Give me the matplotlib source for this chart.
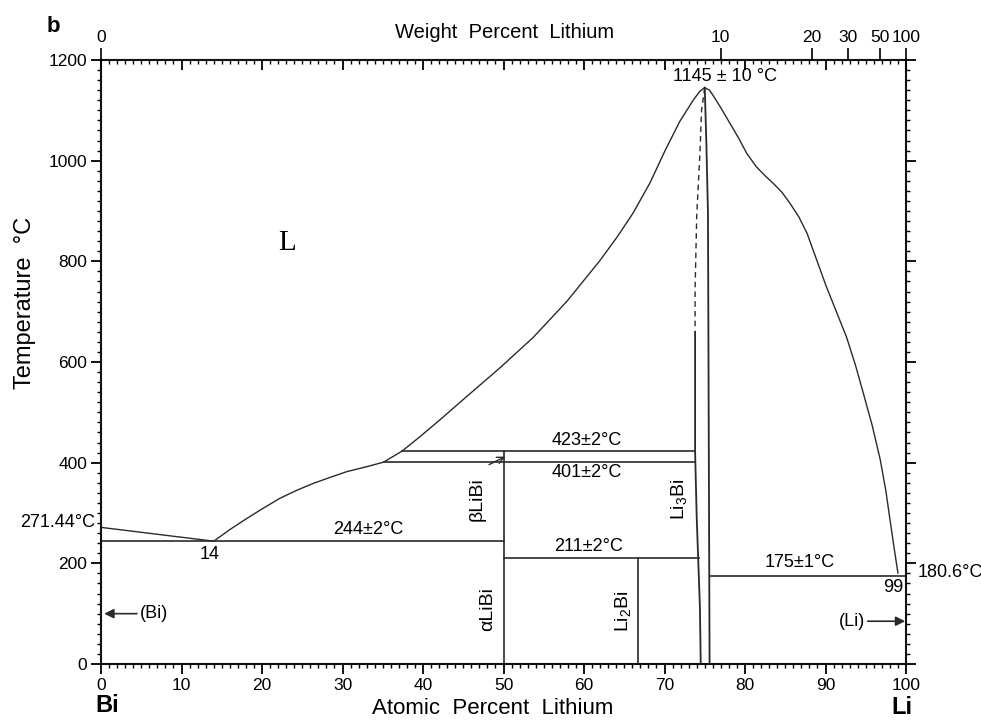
import numpy as np
import matplotlib
matplotlib.use("Agg")
import matplotlib.pyplot as plt
from matplotlib.ticker import MultipleLocator

plt.rcParams['font.family'] = ['Liberation Sans', 'DejaVu Sans']
plt.rcParams['mathtext.fontset'] = 'custom'
plt.rcParams['mathtext.rm'] = 'Liberation Sans'
plt.rcParams['mathtext.it'] = 'Liberation Sans:italic'

# ---------------- data (atomic % Li, temperature in °C) ----------------
bi_liq_x = [0, 14.0]
bi_liq_T = [271.44, 244]

libi_liq_x = [14.0, 16.0, 18.1, 20.0, 22.2, 24.3, 26.4, 28.5, 30.5, 33.0, 35.1, 37.4, 39.5,
              42.1, 45.4, 49.6, 53.7, 57.9, 62.0, 64.1, 66.1, 68.2, 70.1, 71.9, 73.6, 74.4, 75.0]
libi_liq_T = [244, 267, 289, 308, 329, 345, 359, 371, 382, 392, 401, 423, 450,
              485, 531, 589, 649, 721, 802, 848, 896, 956, 1021, 1078, 1121, 1138, 1145]

li_liq_x = [75.0, 75.6, 76.1, 77.0, 78.1, 79.2, 80.2, 81.4, 82.5, 83.5, 84.6, 85.6, 86.7,
            87.7, 88.9, 90.1, 91.4, 92.6, 93.7, 94.7, 95.8, 96.8, 97.5, 98.0, 98.5, 99.0]
li_liq_T = [1145, 1140, 1128, 1105, 1075, 1045, 1015, 988, 970, 955, 937, 915, 888,
            856, 803, 750, 698, 650, 595, 538, 474, 406, 344, 288, 233, 180.6]

li3bi_dash_x = [75.0, 74.6, 74.4, 74.0, 73.8, 73.8]
li3bi_dash_T = [1145, 1100, 1015, 889, 744, 665]

li3bi_left_x = [73.8, 73.8, 74.0, 74.4, 74.5]
li3bi_left_T = [660, 423, 292, 113, 0]

li3bi_right_x = [75.0, 75.2, 75.4, 75.6]
li3bi_right_T = [1145, 1035, 896, 0]

# isotherms: (temperature, x_start, x_end)
iso_T = [423, 401, 244, 211, 175]
iso_x0 = [37.4, 35.1, 0, 50, 75.6]
iso_x1 = [73.8, 73.8, 50, 74.3, 100]

# stoichiometric compounds: (x, T_top)
comp_x = [50, 66.7]
comp_T = [423, 211]

wt_ticks = [0, 10, 20, 30, 50, 100]

M_LI, M_BI = 6.94, 208.98


def wt2at(w):
    w = np.asarray(w, dtype=float)
    return (w / M_LI) / (w / M_LI + (100 - w) / M_BI) * 100


LC = '#2a2a2a'
LW = 1.0

fig = plt.figure(figsize=(9.81, 7.21), dpi=100)
fig.patch.set_facecolor('white')
W, H = 981, 721
ax = fig.add_axes([101 / W, 1 - 664 / H, (906 - 101) / W, (664 - 60) / H])
ax.set_xlim(0, 100)
ax.set_ylim(0, 1200)

ax.plot(bi_liq_x, bi_liq_T, color=LC, lw=LW)
ax.plot(libi_liq_x, libi_liq_T, color=LC, lw=LW)
ax.plot(li_liq_x, li_liq_T, color=LC, lw=LW)
ax.plot(li3bi_dash_x, li3bi_dash_T, color=LC, lw=LW, ls=(0, (4, 3)))
ax.plot(li3bi_left_x, li3bi_left_T, color=LC, lw=1.3)
ax.plot(li3bi_right_x, li3bi_right_T, color=LC, lw=1.3)
for t, x0, x1 in zip(iso_T, iso_x0, iso_x1):
    ax.plot([x0, x1], [t, t], color=LC, lw=1.2)
for x, t in zip(comp_x, comp_T):
    ax.plot([x, x], [0, t], color=LC, lw=1.2)

# ticks
for s in ax.spines.values():
    s.set_linewidth(1.5)
    s.set_color('#111111')
ax.xaxis.set_major_locator(MultipleLocator(10))
ax.xaxis.set_minor_locator(MultipleLocator(1))
ax.yaxis.set_major_locator(MultipleLocator(200))
ax.yaxis.set_minor_locator(MultipleLocator(20))
ax.tick_params(axis='x', which='major', direction='out', length=7, width=1.3,
               labelsize=12.5, pad=3, top=False)
ax.tick_params(axis='x', which='minor', direction='out', length=3, width=1.0, top=False)
ax.tick_params(axis='y', which='major', direction='out', length=7, width=1.3,
               labelsize=12.5, pad=3, right=True)
ax.tick_params(axis='y', which='minor', direction='out', length=3, width=1.0, right=True)

# top: mirrored atomic-percent ticks pointing inward
axm = ax.twiny()
axm.set_xlim(0, 100)
axm.xaxis.set_major_locator(MultipleLocator(10))
axm.xaxis.set_minor_locator(MultipleLocator(1))
axm.tick_params(axis='x', which='major', direction='in', length=7, width=1.3, labeltop=False)
axm.tick_params(axis='x', which='minor', direction='in', length=3, width=1.0)
for s in axm.spines.values():
    s.set_visible(False)

# top: weight percent axis
axt = ax.twiny()
axt.set_xlim(0, 100)
axt.set_xticks(wt2at(wt_ticks))
axt.set_xticklabels([str(w) for w in wt_ticks])
axt.tick_params(axis='x', direction='out', length=9, width=1.2, labelsize=12.5, pad=2)
for s in axt.spines.values():
    s.set_visible(False)

# axis labels
fig.text(505 / W, 1 - 32 / H, 'Weight  Percent  Lithium', ha='center', va='center', fontsize=14.5)
fig.text(493 / W, 1 - 709 / H, 'Atomic  Percent  Lithium', ha='center', va='center', fontsize=16)
fig.text(25 / W, 1 - 303 / H, 'Temperature  °C', ha='center', va='center', rotation=90, fontsize=17)
fig.text(53 / W, 1 - 27 / H, 'b', ha='center', va='center', fontsize=16, fontweight='bold')
fig.text(107 / W, 1 - 705 / H, 'Bi', ha='center', va='center', fontsize=17, fontweight='bold')
fig.text(902 / W, 1 - 707 / H, 'Li', ha='center', va='center', fontsize=17, fontweight='bold')

# annotations
fs = 13
ax.text(23.1, 837, 'L', family=['Liberation Serif'], fontsize=21, ha='center', va='center')
ax.text(77.5, 1167, '1145 ± 10 °C', fontsize=fs, ha='center', va='center')
ax.text(60.4, 444, '423±2°C', fontsize=fs, ha='center', va='center')
ax.text(60.4, 380, '401±2°C', fontsize=fs, ha='center', va='center')
ax.text(60.6, 233, '211±2°C', fontsize=fs, ha='center', va='center')
ax.text(33.2, 268, '244±2°C', fontsize=fs, ha='center', va='center')
ax.text(86.8, 201, '175±1°C', fontsize=fs, ha='center', va='center')
ax.text(13.5, 217, '14', fontsize=fs, ha='center', va='center')
ax.text(98.4, 151, '99', fontsize=fs, ha='center', va='center')
ax.text(-0.7, 281, '271.44°C', fontsize=fs, ha='right', va='center', clip_on=False)
ax.text(101.4, 181, '180.6°C', fontsize=fs, ha='left', va='center', clip_on=False)

ax.text(46.7, 328, 'βLiBi', fontsize=fs + 1, rotation=90, ha='center', va='center')
ax.text(48.0, 109, 'αLiBi', fontsize=fs + 1, rotation=90, ha='center', va='center')
ax.text(64.8, 105, 'Li$_2$Bi', fontsize=fs + 1, rotation=90, ha='center', va='center')
ax.text(71.8, 328, 'Li$_3$Bi', fontsize=fs + 1, rotation=90, ha='center', va='center')

ax.annotate('', xy=(50.2, 412), xytext=(48.2, 396),
            arrowprops=dict(arrowstyle='->', color=LC, lw=1.0, mutation_scale=12,
                            shrinkA=0, shrinkB=0))
ax.annotate('(Bi)', xy=(0.4, 100), xytext=(4.8, 100), fontsize=fs, ha='left', va='center',
            arrowprops=dict(arrowstyle='-|>', color=LC, lw=1.2, mutation_scale=14,
                            shrinkA=0, shrinkB=0))
ax.annotate('(Li)', xy=(99.9, 85), xytext=(94.9, 85), fontsize=fs, ha='right', va='center',
            arrowprops=dict(arrowstyle='-|>', color=LC, lw=1.2, mutation_scale=14,
                            shrinkA=0, shrinkB=0))

fig.savefig('out.png', dpi=100, facecolor='white')
